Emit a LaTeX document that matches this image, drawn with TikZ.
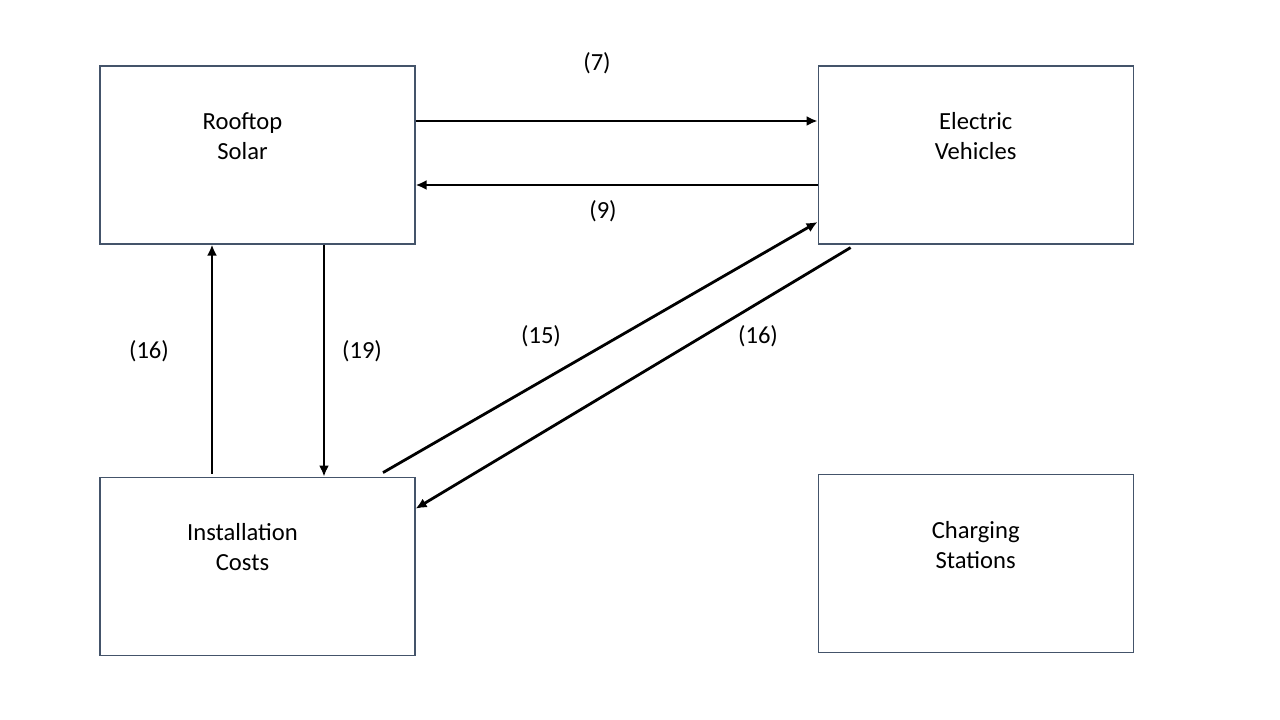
\documentclass[tikz,border=0pt]{standalone}
\usepackage{fontspec}
\setmainfont{Carlito}
\usepackage{xcolor}
\usetikzlibrary{positioning, arrows.meta, calc}

\definecolor{boxline}{RGB}{68,84,106}

\begin{document}
\begin{tikzpicture}[
			x=1pt, y=1pt,
			node distance=232pt and 402pt,
			box/.style={rectangle, draw=boxline, line width=1.2pt, minimum width=315pt, minimum height=178pt, inner sep=0pt},
			boxtext/.style={align=center, font=\fontsize{24.6}{30}\selectfont},
			lbl/.style={font=\fontsize{24.6}{30}\selectfont},
			arrow/.style={line width=2.8pt, -{Latex[length=11pt,width=10pt]}}
			]
			\useasboundingbox (0,0) rectangle (1280,720);
			
			% Boxes
			\node[box] (rooftop) at (257.5,565) {};
			\node[box, right=of rooftop] (ev) {};
			\node[box, below=of rooftop] (install) {};
			\node[box, right=of install, yshift=2.5pt] (charging) {};
			
			% Box texts
			\node[boxtext] (rooftopText) at ([shift={(-15,19)}]rooftop.center) {Rooftop\\Solar};
			\node[boxtext] (evText) at ([shift={(0,19)}]ev.center) {Electric\\Vehicles};
			\node[boxtext] (installText) at ([shift={(-15,19)}]install.center) {Installation\\Costs};
			\node[boxtext] (chargingText) at ([shift={(0,19)}]charging.center) {Charging\\Stations};
			
			% Arrows
			\draw[arrow] ([yshift=34pt]rooftop.east) -- ([yshift=34pt]ev.west);
			\draw[arrow] ([yshift=-30pt]ev.west) -- ([yshift=-30pt]rooftop.east);
			
			\draw[arrow] ([shift={(-45.5,3)}]install.north) -- ([xshift=-45.5pt]rooftop.south);
			\draw[arrow] ([xshift=66.5pt]rooftop.south) -- ([xshift=66.5pt]install.north);
			
			\draw[arrow] ([shift={(125.5,4)}]install.north) -- ([yshift=-67pt]ev.west);
			\draw[arrow] ([shift={(33,-3)}]ev.south west) -- ([yshift=57.5pt]install.east);
			
			% Labels
			\node[lbl] (l7) at (597,657) {(7)};
			\node[lbl] (l9) at (603,509) {(9)};
			\node[lbl] (l16a) at (149,369) {(16)};
			\node[lbl] (l19) at (362,369) {(19)};
			\node[lbl] (l15) at (541,384) {(15)};
			\node[lbl] (l16b) at (758,384) {(16)};
			
		\end{tikzpicture}
\end{document}
